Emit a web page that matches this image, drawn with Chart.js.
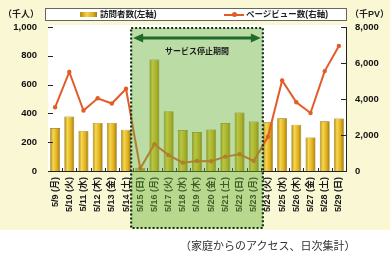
<!DOCTYPE html>
<html>
<head>
<meta charset="utf-8">
<script src="https://cdn.jsdelivr.net/npm/chart.js@4"></script>
<style>
    body { margin: 0; background: #ffffff; }
    #wrap { position: relative; width: 390px; height: 255px; overflow: hidden; font-family: 'Liberation Sans', 'Noto Sans CJK JP', sans-serif; }
    #bg { position: absolute; left: 0; top: 0; width: 390px; height: 230px; background: #f9f7d4; }
    #chart { position: absolute; left: 0; top: 0; }
    .unit { position: absolute; font-size: 9px; font-weight: bold; color: #222; }
    #legend { position: absolute; left: 45px; top: 8px; width: 300px; height: 11px; background: #fff; border: 1px solid #666; }
    .item { position: absolute; top: 0; font-size: 8.5px; font-weight: bold; color: #222; line-height: 11px; white-space: nowrap; }
    .swatch { display: inline-block; width: 17px; height: 5px; vertical-align: middle; margin-right: 3px; background: linear-gradient(90deg, #b38a10, #f6d248 40%, #d9a81c 80%, #a07a10); }
    .lineSw { display: inline-block; position: relative; width: 20px; height: 2px; background: #e35b28; vertical-align: middle; margin-right: 2px; }
    .lineSw:after { content: ''; position: absolute; left: 8px; top: -1.5px; width: 5px; height: 5px; border-radius: 50%; background: #e35b28; }
    #caption { position: absolute; left: 180px; top: 237px; font-family: 'Noto Sans CJK JP', sans-serif; font-size: 11px; color: #333; white-space: nowrap; }
</style>
</head>
<body>
<div id="wrap">
    <div id="bg"></div>
    <canvas id="chart" width="390" height="255"></canvas>
    <div class="unit" style="left:3px; top:7px;">（千人）</div>
    <div class="unit" style="left:350px; top:7px;">（千PV）</div>
    <div id="legend">
        <div class="item" style="left:34px;"><span class="swatch"></span>訪問者数(左軸)</div>
        <div class="item" style="left:178px;"><span class="lineSw"></span>ページビュー数(右軸)</div>
    </div>
    <div id="caption">（家庭からのアクセス、日次集計）</div>
</div>
<script>
// 日付ラベル
const dates = ['5/9', '5/10', '5/11', '5/12', '5/13', '5/14', '5/15', '5/16', '5/17', '5/18', '5/19',
    '5/20', '5/21', '5/22', '5/23', '5/24', '5/25', '5/26', '5/27', '5/28', '5/29'];
const weekdays = ['月', '火', '水', '木', '金', '土', '日', '月', '火', '水', '木',
    '金', '土', '日', '月', '火', '水', '木', '金', '土', '日'];

// 訪問者数 (千人, 左軸)
const visitors = [298, 378, 278, 334, 334, 287, 22, 774, 415, 284, 270,
    289, 333, 406, 343, 338, 366, 322, 233, 345, 365];

// ページビュー数 (千PV, 右軸)
const pageViews = [3540, 5500, 3360, 4040, 3750, 4570, 140, 1490, 880, 465, 560,
    540, 800, 930, 560, 1900, 5030, 3820, 3225, 5550, 6950];

// 軸目盛
const leftMax = 1000, leftStep = 200;
const rightMax = 8000, rightStep = 2000;

// サービス停止期間 (ラベルの添字)
const stopStart = 6, stopEnd = 14;
const stopLabel = 'サービス停止期間';

const labels = dates.map((d, i) => `${d} (${weekdays[i]})`);

const numFont = { family: "'Liberation Sans', 'Noto Sans CJK JP', sans-serif", weight: 'bold' };

// 金色の棒グラデーション
const barFill = (c) => {
    const chart = c.chart;
    const x = chart.scales && chart.scales.x;
    if (!chart.chartArea || !x || c.index === undefined) return '#e0b020';
    const px = x.getPixelForValue(c.index);
    const g = chart.ctx.createLinearGradient(px - 5, 0, px + 5, 0);
    g.addColorStop(0, '#a98210');
    g.addColorStop(0.3, '#f7d84e');
    g.addColorStop(0.7, '#deae1e');
    g.addColorStop(1, '#9c760e');
    return g;
};

// プロット背景・内向き目盛・停止期間の網掛け
const decorPlugin = {
    id: 'decor',
    beforeDatasetsDraw(chart) {
        const { ctx, chartArea: a } = chart;
        ctx.save();
        ctx.fillStyle = '#ffffff';
        ctx.fillRect(a.left, a.top - 2, a.right - a.left, a.bottom - a.top + 2);
        ctx.restore();
    },
    afterDatasetsDraw(chart) {
        const { ctx, chartArea: a, scales } = chart;
        ctx.save();
        ctx.strokeStyle = '#222';
        ctx.lineWidth = 1;
        ctx.beginPath();
        scales.yL.ticks.forEach(t => {
            const y = Math.round(scales.yL.getPixelForValue(t.value)) + 0.5;
            ctx.moveTo(a.left, y); ctx.lineTo(a.left + 5, y);
        });
        scales.yR.ticks.forEach(t => {
            const y = Math.round(scales.yR.getPixelForValue(t.value)) + 0.5;
            ctx.moveTo(a.right, y); ctx.lineTo(a.right - 5, y);
        });
        const half = (scales.x.getPixelForValue(1) - scales.x.getPixelForValue(0)) / 2;
        for (let i = 1; i < labels.length; i++) {
            const x = Math.round(scales.x.getPixelForValue(i) - half) + 0.5;
            ctx.moveTo(x, a.bottom); ctx.lineTo(x, a.bottom - 3);
        }
        ctx.stroke();
        ctx.restore();
    },
    afterDraw(chart) {
        const { ctx, chartArea: a, scales } = chart;
        const half = (scales.x.getPixelForValue(1) - scales.x.getPixelForValue(0)) / 2;
        const x0 = scales.x.getPixelForValue(stopStart) - half - 2;
        const x1 = scales.x.getPixelForValue(stopEnd) + half + 2;
        const y0 = a.top + 1, y1 = 228;
        ctx.save();
        ctx.fillStyle = 'rgba(105, 178, 55, 0.45)';
        ctx.fillRect(x0, y0, x1 - x0, y1 - y0);
        ctx.strokeStyle = '#10301a';
        ctx.lineWidth = 2.2;
        ctx.setLineDash([2, 2]);
        ctx.strokeRect(x0, y0, x1 - x0, y1 - y0);
        ctx.setLineDash([]);

        // 両矢印
        const ay = y0 + 10;
        ctx.strokeStyle = '#1f6a2c';
        ctx.fillStyle = '#1f6a2c';
        ctx.lineWidth = 3;
        ctx.beginPath();
        ctx.moveTo(x0 + 10, ay); ctx.lineTo(x1 - 10, ay);
        ctx.stroke();
        ctx.beginPath();
        ctx.moveTo(x0 + 2, ay); ctx.lineTo(x0 + 12, ay - 4.5); ctx.lineTo(x0 + 12, ay + 4.5); ctx.closePath();
        ctx.moveTo(x1 - 2, ay); ctx.lineTo(x1 - 12, ay - 4.5); ctx.lineTo(x1 - 12, ay + 4.5); ctx.closePath();
        ctx.fill();

        ctx.fillStyle = '#1a1a1a';
        ctx.font = "bold 8px 'Noto Sans CJK JP', sans-serif";
        ctx.textAlign = 'center';
        ctx.textBaseline = 'middle';
        ctx.fillText(stopLabel, (x0 + x1) / 2, ay + 13);
        ctx.restore();
    }
};

new Chart(document.getElementById('chart'), {
    data: {
        labels: labels,
        datasets: [{
            type: 'line',
            label: 'ページビュー数(右軸)',
            data: pageViews,
            yAxisID: 'yR',
            borderColor: '#e35b28',
            backgroundColor: '#e35b28',
            borderWidth: 2,
            pointRadius: 2.2,
            pointBackgroundColor: '#e35b28',
            pointBorderWidth: 0,
            tension: 0,
            order: 0
        }, {
            type: 'bar',
            label: '訪問者数(左軸)',
            data: visitors,
            yAxisID: 'yL',
            backgroundColor: barFill,
            borderColor: '#8a6a0c',
            borderWidth: 0.6,
            barPercentage: 0.7,
            categoryPercentage: 1.0,
            order: 1
        }]
    },
    options: {
        responsive: false,
        animation: false,
        locale: 'en-US',
        layout: { padding: { top: 27, left: 0, right: 0, bottom: 0 } },
        plugins: { legend: { display: false }, tooltip: { enabled: false } },
        scales: {
            x: {
                offset: true,
                grid: { display: false, drawTicks: false },
                border: { display: true, color: '#222', width: 1 },
                ticks: {
                    autoSkip: false, maxRotation: 90, minRotation: 90, padding: 6,
                    color: '#1a1a1a', font: { ...numFont, size: 9 }
                },
                afterFit: (s) => { s.height = 84; }
            },
            yL: {
                position: 'left',
                min: 0, max: leftMax,
                grid: { display: false, drawTicks: false },
                border: { display: true, color: '#222', width: 1 },
                ticks: { stepSize: leftStep, padding: 11, color: '#111', font: { ...numFont, size: 9.5 } },
                afterFit: (s) => { s.width = 48; }
            },
            yR: {
                position: 'right',
                min: 0, max: rightMax,
                grid: { display: false, drawTicks: false },
                border: { display: true, color: '#222', width: 1 },
                ticks: { stepSize: rightStep, padding: 9, color: '#111', font: { ...numFont, size: 9.5 } },
                afterFit: (s) => { s.width = 44; }
            }
        }
    },
    plugins: [decorPlugin]
});
</script>
</body>
</html>
